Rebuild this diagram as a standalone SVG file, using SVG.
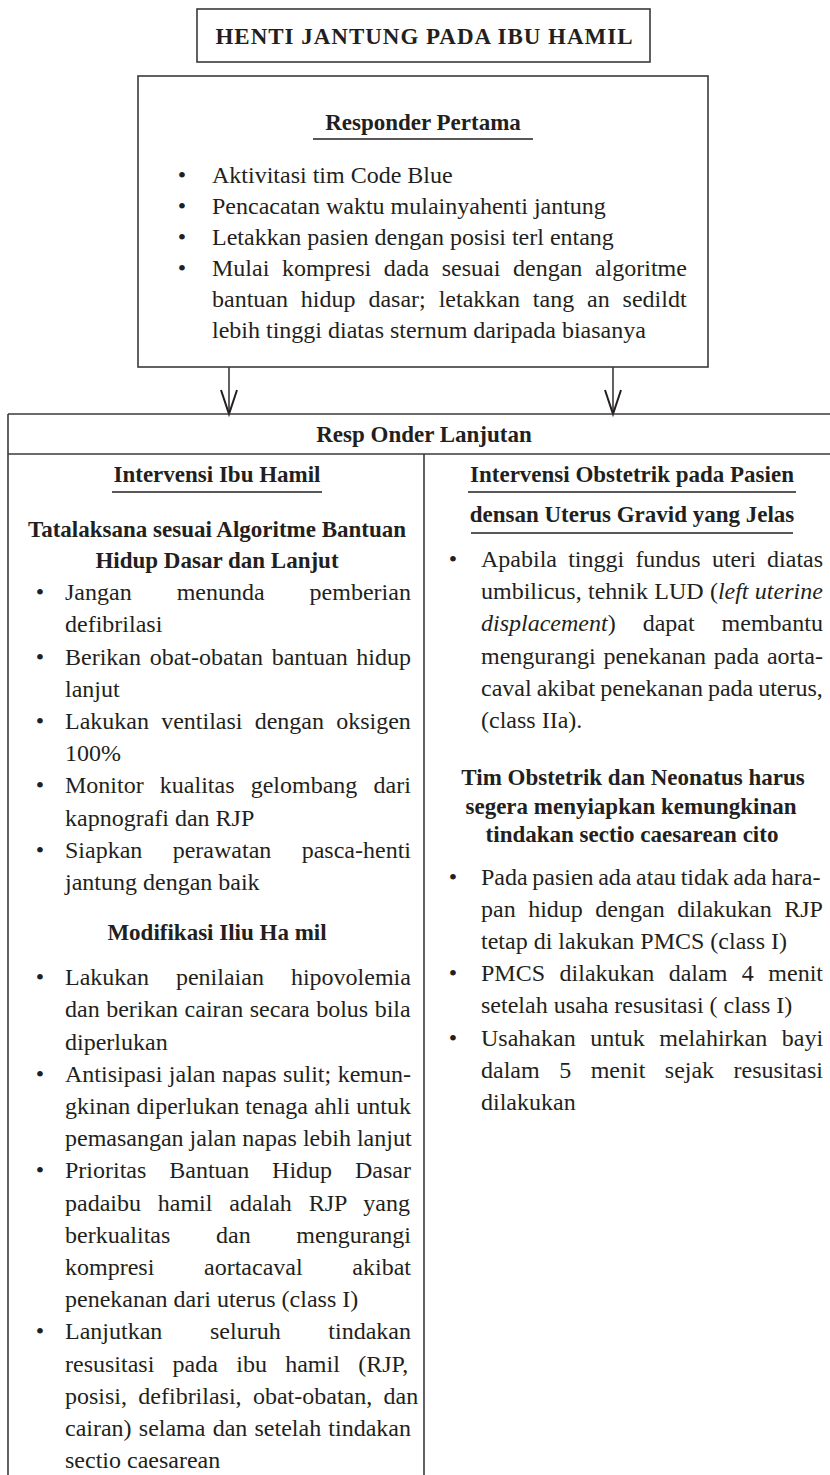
<svg xmlns="http://www.w3.org/2000/svg" width="830" height="1475" viewBox="0 0 830 1475">
<defs>
<style>
.t{font-family:"Liberation Serif","Times New Roman",serif;font-size:24px;fill:#231f20}
.b{font-family:"Liberation Serif","Times New Roman",serif;font-size:23px;font-weight:bold;fill:#231f20}
.c{text-anchor:middle}
.i{font-style:italic}
.ln{stroke:#3a3a3a;stroke-width:1.6;fill:none}
.ul{stroke:#231f20;stroke-width:1.4;fill:none}
</style>
<marker id="arr" markerUnits="userSpaceOnUse" markerWidth="30" markerHeight="22" viewBox="0 0 30 22" refX="26" refY="11" orient="auto" overflow="visible">
<path d="M2,3 L26,11 L2,19" fill="none" stroke="#231f20" stroke-width="2"/>
</marker>
</defs>
<rect width="830" height="1475" fill="#ffffff"/>

<g id="title">
<rect class="ln" x="197" y="9" width="453" height="53"/>
<text class="b c" x="424" y="44" font-size="26" textLength="417" lengthAdjust="spacing">HENTI JANTUNG PADA IBU HAMIL</text>
</g>

<g id="responder-pertama">
<rect class="ln" x="138" y="76" width="570" height="291"/>
<text class="b c" x="423" y="130" font-size="25.5">Responder Pertama</text>
<line class="ul" x1="313" y1="139" x2="533" y2="139"/>
<text class="t c" x="182" y="183">•</text>
<text class="t" x="212" y="183">Aktivitasi tim Code Blue</text>
<text class="t c" x="182" y="214">•</text>
<text class="t" x="212" y="214">Pencacatan waktu mulainyahenti jantung</text>
<text class="t c" x="182" y="245">•</text>
<text class="t" x="212" y="245">Letakkan pasien dengan posisi terl entang</text>
<text class="t c" x="182" y="276">•</text>
<text class="t" x="212" y="276" style="word-spacing:6.6px">Mulai kompresi dada sesuai dengan algoritme</text>
<text class="t" x="212" y="307" style="word-spacing:6.9px">bantuan hidup dasar; letakkan tang an sedildt</text>
<text class="t" x="212" y="338">lebih tinggi diatas sternum daripada biasanya</text>
</g>

<g id="connectors">
<line class="ln" x1="229" y1="367" x2="229" y2="414" stroke="#231f20" stroke-width="2" marker-end="url(#arr)"/>
<line class="ln" x1="613" y1="367" x2="613" y2="414" stroke="#231f20" stroke-width="2" marker-end="url(#arr)"/>
</g>

<g id="responder-lanjutan">
<line class="ln" x1="8" y1="414" x2="830" y2="414"/>
<line class="ln" x1="8" y1="454" x2="830" y2="454"/>
<line class="ln" x1="8" y1="414" x2="8" y2="1475"/>
<line class="ln" x1="424" y1="454" x2="424" y2="1475"/>
<text class="b c" x="424" y="442">Resp Onder Lanjutan</text>
</g>

<g id="intervensi-ibu-hamil">
<text class="b c" x="217" y="482">Intervensi Ibu Hamil</text>
<line class="ul" x1="112" y1="492" x2="322" y2="492"/>
<text class="b c" x="217" y="537">Tatalaksana sesuai Algoritme Bantuan</text>
<text class="b c" x="217" y="568">Hidup Dasar dan Lanjut</text>
<text class="t c" x="40" y="600">•</text>
<text class="t" x="65" y="600" style="word-spacing:39px">Jangan menunda pemberian</text>
<text class="t" x="65" y="632">defibrilasi</text>
<text class="t c" x="40" y="664.5">•</text>
<text class="t" x="65" y="664.5" style="word-spacing:2.7px">Berikan obat-obatan bantuan hidup</text>
<text class="t" x="65" y="696.5">lanjut</text>
<text class="t c" x="40" y="729">•</text>
<text class="t" x="65" y="729" style="word-spacing:6.2px">Lakukan ventilasi dengan oksigen</text>
<text class="t" x="65" y="761">100%</text>
<text class="t c" x="40" y="793">•</text>
<text class="t" x="65" y="793" style="word-spacing:10.2px">Monitor kualitas gelombang dari</text>
<text class="t" x="65" y="825.5">kapnografi dan RJP</text>
<text class="t c" x="40" y="857.5">•</text>
<text class="t" x="65" y="857.5" style="word-spacing:24.4px">Siapkan perawatan pasca-henti</text>
<text class="t" x="65" y="890">jantung dengan baik</text>

<text class="b c" x="217" y="940">Modifikasi Iliu Ha mil</text>
<text class="t c" x="40" y="985">•</text>
<text class="t" x="65" y="985" style="word-spacing:21px">Lakukan penilaian hipovolemia</text>
<text class="t" x="65" y="1017" style="word-spacing:0.5px">dan berikan cairan secara bolus bila</text>
<text class="t" x="65" y="1049.5">diperlukan</text>
<text class="t c" x="40" y="1081.5">•</text>
<text class="t" x="65" y="1081.5" style="word-spacing:0.5px">Antisipasi jalan napas sulit; kemun-</text>
<text class="t" x="65" y="1114" style="word-spacing:0.2px">gkinan diperlukan tenaga ahli untuk</text>
<text class="t" x="65" y="1146">pemasangan jalan napas lebih lanjut</text>
<text class="t c" x="40" y="1178">•</text>
<text class="t" x="65" y="1178" style="word-spacing:16.9px">Prioritas Bantuan Hidup Dasar</text>
<text class="t" x="65" y="1210.5" style="word-spacing:10.8px">padaibu hamil adalah RJP yang</text>
<text class="t" x="65" y="1242.5" style="word-spacing:39.7px">berkualitas dan mengurangi</text>
<text class="t" x="65" y="1275" style="word-spacing:43.7px">kompresi aortacaval akibat</text>
<text class="t" x="65" y="1307">penekanan dari uterus (class I)</text>
<text class="t c" x="40" y="1339">•</text>
<text class="t" x="65" y="1339" style="word-spacing:41.7px">Lanjutkan seluruh tindakan</text>
<text class="t" x="65" y="1371.5" style="word-spacing:12.3px">resusitasi pada ibu hamil (RJP,</text>
<text class="t" x="65" y="1403.5" style="word-spacing:5.3px">posisi, defibrilasi, obat-obatan, dan</text>
<text class="t" x="65" y="1436" style="word-spacing:1.2px">cairan) selama dan setelah tindakan</text>
<text class="t" x="65" y="1468">sectio caesarean</text>
</g>

<g id="intervensi-obstetrik">
<text class="b c" x="632" y="482">Intervensi Obstetrik pada Pasien</text>
<line class="ul" x1="468" y1="492" x2="796" y2="492"/>
<text class="b c" x="632" y="522">densan Uterus Gravid yang Jelas</text>
<line class="ul" x1="471" y1="533" x2="793" y2="533"/>
<text class="t c" x="453" y="567">•</text>
<text class="t" x="481" y="567" style="word-spacing:5.2px">Apabila tinggi fundus uteri diatas</text>
<text class="t" x="481" y="599" style="word-spacing:0.3px">umbilicus, tehnik LUD (<tspan class="i">left uterine</tspan></text>
<text class="t" x="481" y="631" style="word-spacing:21px"><tspan class="i">displacement</tspan>) dapat membantu</text>
<text class="t" x="481" y="663.5" style="word-spacing:1.8px">mengurangi penekanan pada aorta-</text>
<text class="t" x="481" y="695.5" style="word-spacing:-1px">caval akibat penekanan pada uterus,</text>
<text class="t" x="481" y="728">(class IIa).</text>

<text class="b c" x="633" y="785">Tim Obstetrik dan Neonatus harus</text>
<text class="b c" x="631" y="813.5">segera menyiapkan kemungkinan</text>
<text class="b c" x="632" y="842">tindakan sectio caesarean cito</text>

<text class="t c" x="453" y="884.5">•</text>
<text class="t" x="481" y="884.5" style="word-spacing:-1.4px">Pada pasien ada atau tidak ada hara-</text>
<text class="t" x="481" y="916.5" style="word-spacing:6.5px">pan hidup dengan dilakukan RJP</text>
<text class="t" x="481" y="949">tetap di lakukan PMCS (class I)</text>
<text class="t c" x="453" y="981">•</text>
<text class="t" x="481" y="981" style="word-spacing:8.5px">PMCS dilakukan dalam 4 menit</text>
<text class="t" x="481" y="1013">setelah usaha resusitasi ( class I)</text>
<text class="t c" x="453" y="1045.5">•</text>
<text class="t" x="481" y="1045.5" style="word-spacing:8.5px">Usahakan untuk melahirkan bayi</text>
<text class="t" x="481" y="1077.5" style="word-spacing:13.5px">dalam 5 menit sejak resusitasi</text>
<text class="t" x="481" y="1110">dilakukan</text>
</g>
</svg>
